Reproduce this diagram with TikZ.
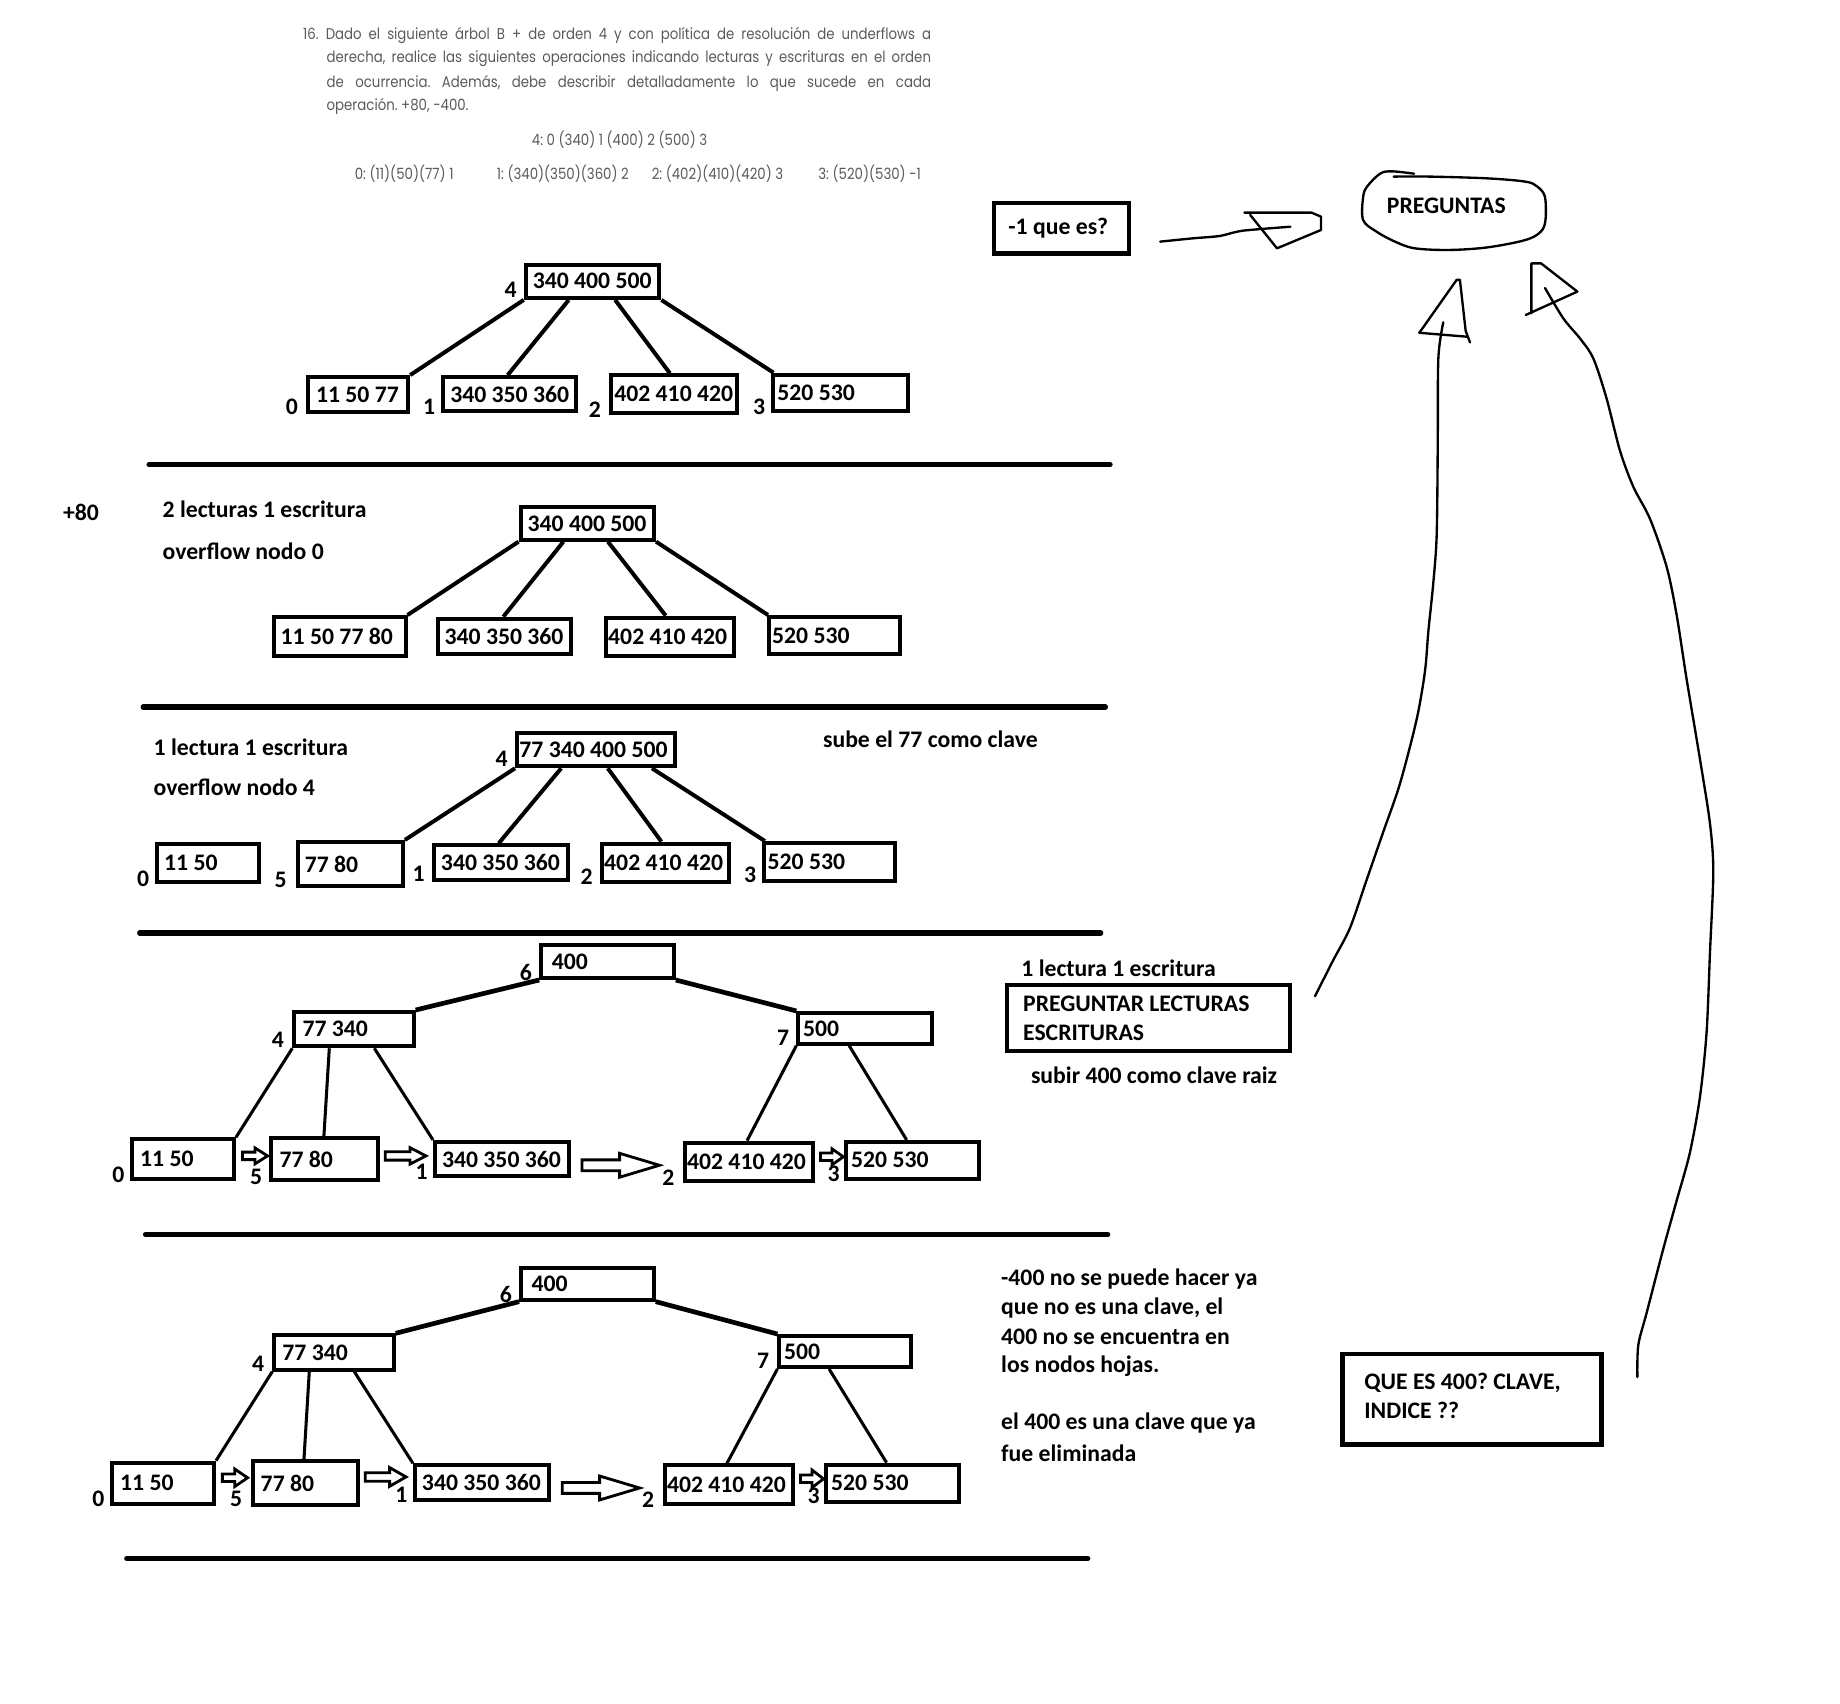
\documentclass[tikz,border=0pt]{standalone}
\usepackage{fontspec}
\setmainfont{Carlito}
\newfontfamily\hdrfont[FakeStretch=0.86]{Poppins}
\usetikzlibrary{calc}
\definecolor{hdrgray}{RGB}{90,90,90}
\frenchspacing

\tikzset{
  keybox/.style={draw, line width=1.7pt, inner sep=0pt},
  thickbox/.style={keybox, line width=2pt},
  keytext/.style={anchor=west, inner sep=0pt, align=left,
    font=\bfseries\fontsize{10.1}{12.2}\selectfont},
  plain/.style={inner sep=0pt, font=\bfseries\fontsize{10.1}{12.2}\selectfont},
  note/.style={plain, anchor=west},
  edge/.style={line width=1.7pt},
  upedge/.style={line width=2pt},
  lowedge/.style={line width=1.3pt},
  sep/.style={line width=2.2pt, line cap=round},
  hand/.style={line width=1pt, line join=round, line cap=round},
  blk/.style={line width=1.2pt, fill=white, line join=miter},
  hdr/.style={inner sep=0pt, text=hdrgray, font=\hdrfont\fontsize{6.6}{8}\selectfont},
}

% box with its keys, given by its outer corners (x1,y1) (x2,y2)
\newcommand\bx[7][8]{%
  \node[keybox, minimum width={(#5-#3-3.4)*0.5}, minimum height={(#6-#4-3.4)*0.5}]
    (#2) at ({(#3+#5)/2},{(#4+#6)/2}) {};
  \node[keytext] (#2-t) at ($(#2.west)+({#1-1.7},0)$) {#7};}

% hollow block arrow: x-start, x-tip, y-centre, half shaft, half head, head start
\newcommand\hollowarrow[6]{%
  \draw[blk] ({#1},{#3-#4}) -- ({#6},{#3-#4}) -- ({#6},{#3-#5}) -- ({#2},{#3})
    -- ({#6},{#3+#5}) -- ({#6},{#3+#4}) -- ({#1},{#3+#4}) -- cycle;}

\begin{document}
\begin{tikzpicture}[x=0.5pt, y=-0.5pt]
\useasboundingbox (0,0) rectangle (1568,1452);

% ---------------- statement ----------------
\node[hdr, anchor=west] (h1) at (258,30) {\makebox[267.5pt][s]{16. Dado el siguiente árbol B + de orden 4 y con política de resolución de underflows a}};
\node[hdr, anchor=west] (h2) at (278,50) {\makebox[257.5pt][s]{derecha, realice las siguientes operaciones indicando lecturas y escrituras en el orden}};
\node[hdr, anchor=west] (h3) at (278,71) {\makebox[257.5pt][s]{de ocurrencia. Además, debe describir detalladamente lo que sucede en cada}};
\node[hdr, anchor=west] (h4) at (278,91) {operación. +80, -400.};
\node[hdr] (h5) at (528,119) {4: 0 (340) 1 (400) 2 (500) 3};
\node[hdr, anchor=west] (h6) at (302,148) {0: (11)(50)(77) 1};
\node[hdr, anchor=west] (h7) at (423,148) {1: (340)(350)(360) 2};
\node[hdr, anchor=west] (h8) at (555,148) {2: (402)(410)(420) 3};
\node[hdr, anchor=west] (h9) at (697,148) {3: (520)(530) -1};

% ---------------- initial tree ----------------
\bx[9]{aR}{446.3}{223.8}{563.6}{255.6}{340 400 500}
\bx[10]{aL0}{260.6}{319.6}{349.6}{353.1}{11 50 77}
\bx[9]{aL1}{376}{319.6}{492.6}{352.2}{340 350 360}
\bx[6]{aL2}{518.8}{318.1}{630}{353.6}{402 410 420}
\bx[7]{aL3}{656.8}{317.6}{775.2}{351.7}{520 530}
\node[plain] (aN4) at (435.2,247.1) {4};
\node[plain] (aN0) at (248.7,346.5) {0};
\node[plain] (aN1) at (365.7,346.5) {1};
\node[plain] (aN2) at (506.9,348.8) {2};
\node[plain] (aN3) at (646.9,346.5) {3};
\draw[edge] (aR.south west) -- (aL0.north east);
\draw[edge] ($(aR.south west)!0.327!(aR.south east)$) -- ($(aL1.north west)!0.486!(aL1.north east)$);
\draw[edge] ($(aR.south west)!0.664!(aR.south east)$) -- ($(aL2.north west)!0.468!(aL2.north east)$);
\draw[edge] (aR.south east) -- ($(aL3.north west)!0.02!(aL3.north east)$);
\draw[sep] (127,396) -- (946,396);

% ---------------- +80 ----------------
\node[plain] (ins) at (69,437) {+80};
\node[note] (bT1) at (138.2,434) {2 lecturas 1 escritura};
\node[note] (bT2) at (138.2,470) {overflow nodo 0};
\bx[9]{bR}{441.9}{430.3}{559.1}{461.6}{340 400 500}
\bx[9]{bL0}{231.5}{524.1}{347.3}{561}{11 50 77 80}
\bx[9]{bL1}{371.2}{525.5}{488.4}{559}{340 350 360}
\bx[5]{bL2}{514.6}{524.6}{627}{561}{402 410 420}
\bx[6]{bL3}{653.3}{524.1}{768.5}{559}{520 530}
\draw[edge] (bR.south west) -- (bL0.north east);
\draw[edge] ($(bR.south west)!0.326!(bR.south east)$) -- ($(bL1.north west)!0.493!(bL1.north east)$);
\draw[edge] ($(bR.south west)!0.65!(bR.south east)$) -- ($(bL2.north west)!0.469!(bL2.north east)$);
\draw[edge] (bR.south east) -- ($(bL3.north west)!0.01!(bL3.north east)$);
\draw[sep] (122,602.5) -- (942,602.5);

% ---------------- split of node 0 ----------------
\node[note] (cT1) at (130.6,636.8) {1 lectura 1 escritura};
\node[note] (cT2) at (130.6,671) {overflow nodo 4};
\node[note] (cT3) at (701,630) {sube el 77 como clave};
\bx[5]{cR}{438.9}{622.7}{577.3}{654.7}{77 340 400 500}
\bx[9]{cL0}{132.2}{717.2}{222.1}{753.3}{11 50}
\bx[9]{cL5}{252}{715.8}{345}{757}{77 80}
\bx[9]{cL1}{368.1}{718.6}{485.4}{751.3}{340 350 360}
\bx[5]{cL2}{511.2}{717.2}{622.7}{753.3}{402 410 420}
\bx[6]{cL3}{649.5}{716.7}{764.1}{752.2}{520 530}
\node[plain] (cN4) at (427.5,646.2) {4};
\node[plain] (cN0) at (121.9,748.5) {0};
\node[plain] (cN5) at (239.1,749.9) {5};
\node[plain] (cN1) at (356.8,744.2) {1};
\node[plain] (cN2) at (499.8,747.1) {2};
\node[plain] (cN3) at (639.2,745.6) {3};
\draw[edge] (cR.south west) -- (cL5.north east);
\draw[edge] ($(cR.south west)!0.284!(cR.south east)$) -- ($(cL1.north west)!0.485!(cL1.north east)$);
\draw[edge] ($(cR.south west)!0.571!(cR.south east)$) -- ($(cL2.north west)!0.47!(cL2.north east)$);
\draw[edge] ($(cR.south west)!0.843!(cR.south east)$) -- ($(cL3.north west)!0.02!(cL3.north east)$);
\draw[sep] (119,795) -- (938,795);

% ---------------- split of node 4 ----------------
\bx[12]{dR}{459.5}{803.3}{575.9}{835.1}{400}
\bx[10]{dI4}{249.1}{860.7}{354.2}{893.3}{77 340}
\bx[7]{dI7}{678.6}{861.5}{795.6}{891.1}{500}
\bx[10]{dL0}{110.7}{969.2}{201.1}{1006.1}{11 50}
\bx[10]{dL5}{229.5}{968}{323.5}{1007.5}{77 80}
\bx[9]{dL1}{369}{971.4}{486.3}{1004.1}{340 350 360}
\bx[5]{dL2}{581.8}{972}{694.2}{1007.8}{402 410 420}
\bx[7]{dL3}{719.6}{971.4}{836.1}{1006.1}{520 530}
\node[plain] (dN6) at (448.2,828.9) {6};
\node[plain] (dN4) at (236.9,886.2) {4};
\node[plain] (dN7) at (667.3,884.8) {7};
\node[plain] (dN0) at (100.9,1001) {0};
\node[plain] (dN5) at (218.2,1002.7) {5};
\node[plain] (dN1) at (359.2,998.5) {1};
\node[plain] (dN2) at (569.5,1003.3) {2};
\node[plain] (dN3) at (710.4,1000) {3};
\draw[upedge] (dR.south west) -- (dI4.north east);
\draw[upedge] (dR.south east) -- (dI7.north west);
\draw[lowedge] (dI4.south west) -- (dL0.north east);
\draw[lowedge] ($(dI4.south west)!0.3!(dI4.south east)$) -- ($(dL5.north west)!0.495!(dL5.north east)$);
\draw[lowedge] ($(dI4.south west)!0.665!(dI4.south east)$) -- (dL1.north west);
\draw[lowedge] (dI7.south west) -- ($(dL2.north west)!0.488!(dL2.north east)$);
\draw[lowedge] ($(dI7.south west)!0.385!(dI7.south east)$) -- ($(dL3.north west)!0.455!(dL3.north east)$);
\hollowarrow{206.6}{228}{985}{3.2}{6.8}{217.3}
\hollowarrow{328.3}{363}{985}{3.6}{7}{349.4}
\hollowarrow{496}{562}{993}{4.6}{10.2}{528}
\hollowarrow{699.2}{718.7}{985.8}{3.2}{6.8}{709}
\node[note] (dT1) at (870,825) {1 lectura 1 escritura};
\bx[17]{ask}{856.2}{838}{1100.7}{897.6}{PREGUNTAR LECTURAS\\ESCRITURAS}
\node[note] (dT2) at (878.2,916) {subir 400 como clave raiz};
\draw[sep] (124,1052) -- (944,1052);

% ---------------- -400 ----------------
\bx[12]{eR}{442.4}{1078.8}{558.8}{1109.2}{400}
\bx[10]{eI4}{232}{1136.2}{337.2}{1168.9}{77 340}
\bx[7]{eI7}{662.5}{1136.8}{778.4}{1166.6}{500}
\bx[10]{eL0}{93.7}{1244.7}{184.1}{1283.3}{11 50}
\bx[10]{eL5}{213.5}{1243.6}{306.4}{1284.5}{77 80}
\bx[9]{eL1}{351.9}{1247}{469.3}{1279.7}{340 350 360}
\bx[5]{eL2}{564.7}{1247}{677.2}{1283.3}{402 410 420}
\bx[7]{eL3}{702.6}{1246.4}{819.1}{1281.6}{520 530}
\node[plain] (eN6) at (431.2,1103.5) {6};
\node[plain] (eN4) at (219.9,1161.8) {4};
\node[plain] (eN7) at (650.3,1159.8) {7};
\node[plain] (eN0) at (83.9,1276.8) {0};
\node[plain] (eN5) at (201.2,1277.7) {5};
\node[plain] (eN1) at (342.1,1274) {1};
\node[plain] (eN2) at (552.4,1277.7) {2};
\node[plain] (eN3) at (693.3,1275) {3};
\draw[upedge] (eR.south west) -- (eI4.north east);
\draw[upedge] (eR.south east) -- (eI7.north west);
\draw[lowedge] (eI4.south west) -- (eL0.north east);
\draw[lowedge] ($(eI4.south west)!0.3!(eI4.south east)$) -- ($(eL5.north west)!0.49!(eL5.north east)$);
\draw[lowedge] ($(eI4.south west)!0.665!(eI4.south east)$) -- (eL1.north west);
\draw[lowedge] (eI7.south west) -- ($(eL2.north west)!0.487!(eL2.north east)$);
\draw[lowedge] ($(eI7.south west)!0.38!(eI7.south east)$) -- ($(eL3.north west)!0.454!(eL3.north east)$);
\hollowarrow{189.5}{211}{1259.3}{3.2}{7.5}{200}
\hollowarrow{311.3}{346}{1258.6}{3.6}{8}{332}
\hollowarrow{479.1}{545.1}{1268}{4.6}{10.2}{511}
\hollowarrow{682.2}{701.7}{1260.2}{3.2}{7.5}{692}
\node[note] (eT1) at (852.8,1090) {-400 no se puede hacer ya};
\node[note] (eT2) at (852.8,1115) {que no es una clave, el};
\node[note] (eT3) at (852.8,1139) {400 no se encuentra en};
\node[note] (eT4) at (852.8,1164) {los nodos hojas.};
\node[note] (eT5) at (852.8,1213) {el 400 es una clave que ya};
\node[note] (eT6) at (852.8,1238) {fue eliminada};
\draw[sep] (108,1328) -- (927,1328);

% ---------------- questions ----------------
\node[thickbox, minimum width={(964-845-4)*0.5}, minimum height={(218-171-4)*0.5}] (q1) at (904.5,194.5) {};
\node[keytext] (q1-t) at (859,194.5) {-1 que es?};
\node[thickbox, minimum width={(1367-1142.2-4)*0.5}, minimum height={(1233-1151.8-4)*0.5}] (q2) at (1254.6,1192.4) {};
\node[keytext] (q2-t) at (1162.3,1189.5) {QUE ES 400? CLAVE,\\INDICE ??};
\node[plain] (pg) at (1232.5,175) {PREGUNTAS};

% cloud round PREGUNTAS
\draw[hand] plot[smooth, tension=0.55] coordinates {(1205,148) (1186,146) (1176,148) (1165,159)
  (1161.6,168) (1161.6,187.5) (1173,197.4) (1189,206) (1205.6,211.6) (1235,213) (1267.6,210.8)
  (1300,204.5) (1313,197.4) (1317,187.5) (1316.5,167.6) (1310,159) (1300,154.8) (1267.6,152)
  (1218.7,150.5) (1187.7,150.5)};

% sketched arrow from "-1 que es?"
\draw[hand] plot[smooth, tension=0.4] coordinates {(988.7,205.9) (1016.5,203.1) (1039.3,201.1) (1058.9,196.6) (1099.6,193.2)};
\draw[hand] (1065.4,183.2) -- (1088.2,211.6) -- (1125.7,196) -- (1125.7,184.6) -- (1117.6,181.2) -- (1060.5,181.2);

% sketched arrow from the lecturas/escrituras note
\draw[hand] plot[smooth, tension=0.5] coordinates {(1120.6,848.9) (1136.2,818.1) (1150.4,790.8)
  (1164.6,749.8) (1178.8,708.8) (1193,667.8) (1207.2,613.1) (1214.3,572.1) (1217.2,537.9)
  (1221.4,496.9) (1224.3,455.9) (1225.2,380) (1225.7,305.5) (1229.9,274.7)};
\draw[hand] (1209.5,283.6) -- (1241.3,238.5) -- (1244.1,238.5) -- (1249,282) -- (1252.7,291.8);
\draw[hand] (1209.5,283.6) -- (1251,287);

% sketched arrow from the 400 question
\draw[hand] plot[smooth, tension=0.5] coordinates {(1395.3,1173.5) (1396.1,1146.2) (1403.2,1118.8)
  (1417.4,1064.2) (1428.8,1023.1) (1440.1,982.1) (1448.7,934.3) (1454.3,879.6) (1457.2,811.3)
  (1460,742.9) (1457.2,701.9) (1448.7,647.2) (1437.3,578.9) (1428.8,524.2) (1420.3,483.2)
  (1406.1,442.2) (1391.9,414.9) (1380.5,384.1) (1369.1,339.7) (1357.8,305.5) (1346.4,288.4)
  (1332.2,271.3) (1316.6,245.4)};
\draw[hand] (1305,267) -- (1305,224.4) -- (1313.2,224.4) -- (1344.2,248.5) -- (1300.2,268.4);

\end{tikzpicture}
\end{document}
